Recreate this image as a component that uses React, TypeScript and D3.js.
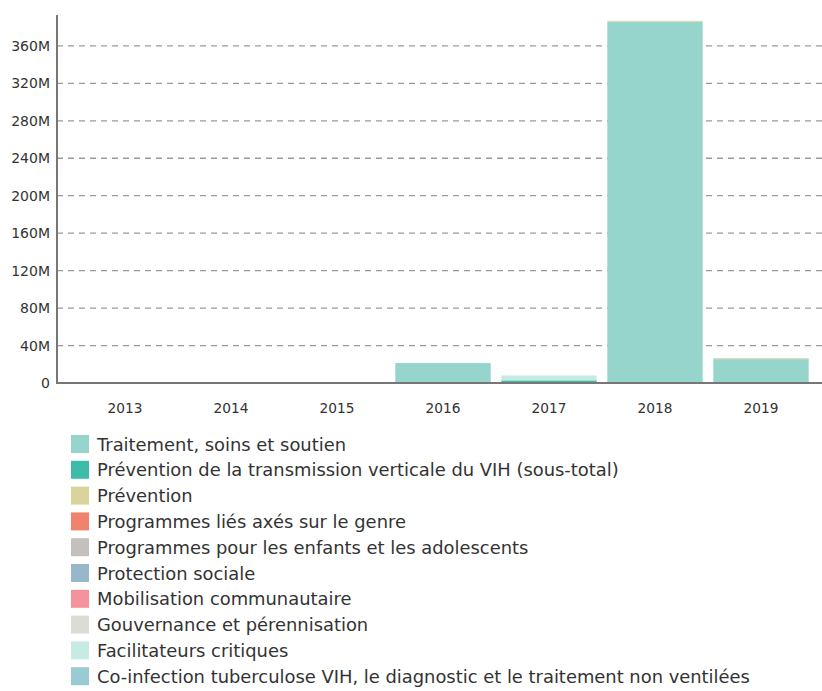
import React from "react";
import * as d3 from "d3";

const years = ["2013", "2014", "2015", "2016", "2017", "2018", "2019"];

const seriesNames = [
  "Traitement, soins et soutien",
  "Prévention de la transmission verticale du VIH (sous-total)",
  "Prévention",
  "Programmes liés axés sur le genre",
  "Programmes pour les enfants et les adolescents",
  "Protection sociale",
  "Mobilisation communautaire",
  "Gouvernance et pérennisation",
  "Facilitateurs critiques",
  "Co-infection tuberculose VIH, le diagnostic et le traitement non ventilées",
];

const seriesColors = [
  "#96d5cb",
  "#3dbcac",
  "#d9d49c",
  "#f0836b",
  "#c5bfbe",
  "#98b8c9",
  "#f4939b",
  "#dcdcd6",
  "#c7eae3",
  "#9acbd4",
];

// values in millions, per series, per year
const treatment = [0, 0, 0, 20.8, 0, 386, 25.5];
const ptme = [0, 0, 0, 0.4, 2.8, 0, 0];
const prevention = [0, 0, 0, 0, 0, 0.8, 1.0];
const gender = [0, 0, 0, 0, 0, 0, 0];
const children = [0, 0, 0, 0, 0, 0, 0];
const socialProtection = [0, 0, 0, 0, 0, 0, 0];
const mobilisation = [0, 0, 0, 0, 0, 0, 0];
const governance = [0, 0, 0, 0, 0, 0, 0];
const facilitators = [0, 0, 0, 0, 5.3, 0, 0];
const tbCoinfection = [0, 0, 0, 0, 0, 0, 0];

const seriesValues = [
  treatment,
  ptme,
  prevention,
  gender,
  children,
  socialProtection,
  mobilisation,
  governance,
  facilitators,
  tbCoinfection,
];

const yTicks = [0, 40, 80, 120, 160, 200, 240, 280, 320, 360];
const yMax = 393;

export default function App() {
  const W = 822;
  const H = 691;
  const axisX = 57;
  const baseY = 383;
  const topY = 15;

  const x = d3
    .scaleBand<string>()
    .domain(years)
    .range([72, 814])
    .paddingInner(0.1)
    .paddingOuter(0.05);
  const y = d3.scaleLinear().domain([0, yMax]).range([baseY, topY]);

  const table = years.map((yr, i) => {
    const row: any = { year: yr };
    seriesNames.forEach((n, s) => (row[n] = seriesValues[s][i]));
    return row;
  });
  const stacked = d3.stack().keys(seriesNames)(table);

  const fmt = (v: number) => (v === 0 ? "0" : `${v}M`);
  const font = "'DejaVu Sans', sans-serif";

  return (
    <svg
      width={W}
      height={H}
      style={{ position: "absolute", left: 0, top: 0, background: "#fff" }}
      fontFamily={font}
    >
      {yTicks.slice(1).map((t) => (
        <line
          key={"g" + t}
          x1={axisX}
          x2={W}
          y1={y(t)}
          y2={y(t)}
          stroke="#9a9a9a"
          strokeWidth={1.3}
          strokeDasharray="6,5"
        />
      ))}
      {stacked.map((layer, s) =>
        layer.map((d, i) => {
          const h = y(d[0]) - y(d[1]);
          if (h <= 0) return null;
          return (
            <rect
              key={s + "-" + i}
              x={x(years[i])}
              width={x.bandwidth()}
              y={y(d[1])}
              height={h}
              fill={seriesColors[s]}
            />
          );
        })
      )}
      <line x1={axisX} x2={axisX} y1={topY} y2={baseY + 1} stroke="#777" strokeWidth={2} />
      <line x1={axisX - 1} x2={W} y1={baseY} y2={baseY} stroke="#777" strokeWidth={2} />
      {yTicks.map((t) => (
        <text
          key={"t" + t}
          x={50}
          y={y(t)}
          textAnchor="end"
          dominantBaseline="central"
          fontSize={14}
          fill="#333"
        >
          {fmt(t)}
        </text>
      ))}
      {years.map((yr) => (
        <text
          key={"x" + yr}
          x={(x(yr) as number) + x.bandwidth() / 2}
          y={408}
          textAnchor="middle"
          dominantBaseline="central"
          fontSize={13.7}
          fill="#333"
        >
          {yr}
        </text>
      ))}
      {seriesNames.map((n, s) => (
        <g key={"l" + s} transform={`translate(71, ${435 + s * 25.8})`}>
          <rect width={18} height={18} fill={seriesColors[s]} />
          <text x={26} y={9} dominantBaseline="central" fontSize={17.9} fill="#333">
            {n}
          </text>
        </g>
      ))}
    </svg>
  );
}
